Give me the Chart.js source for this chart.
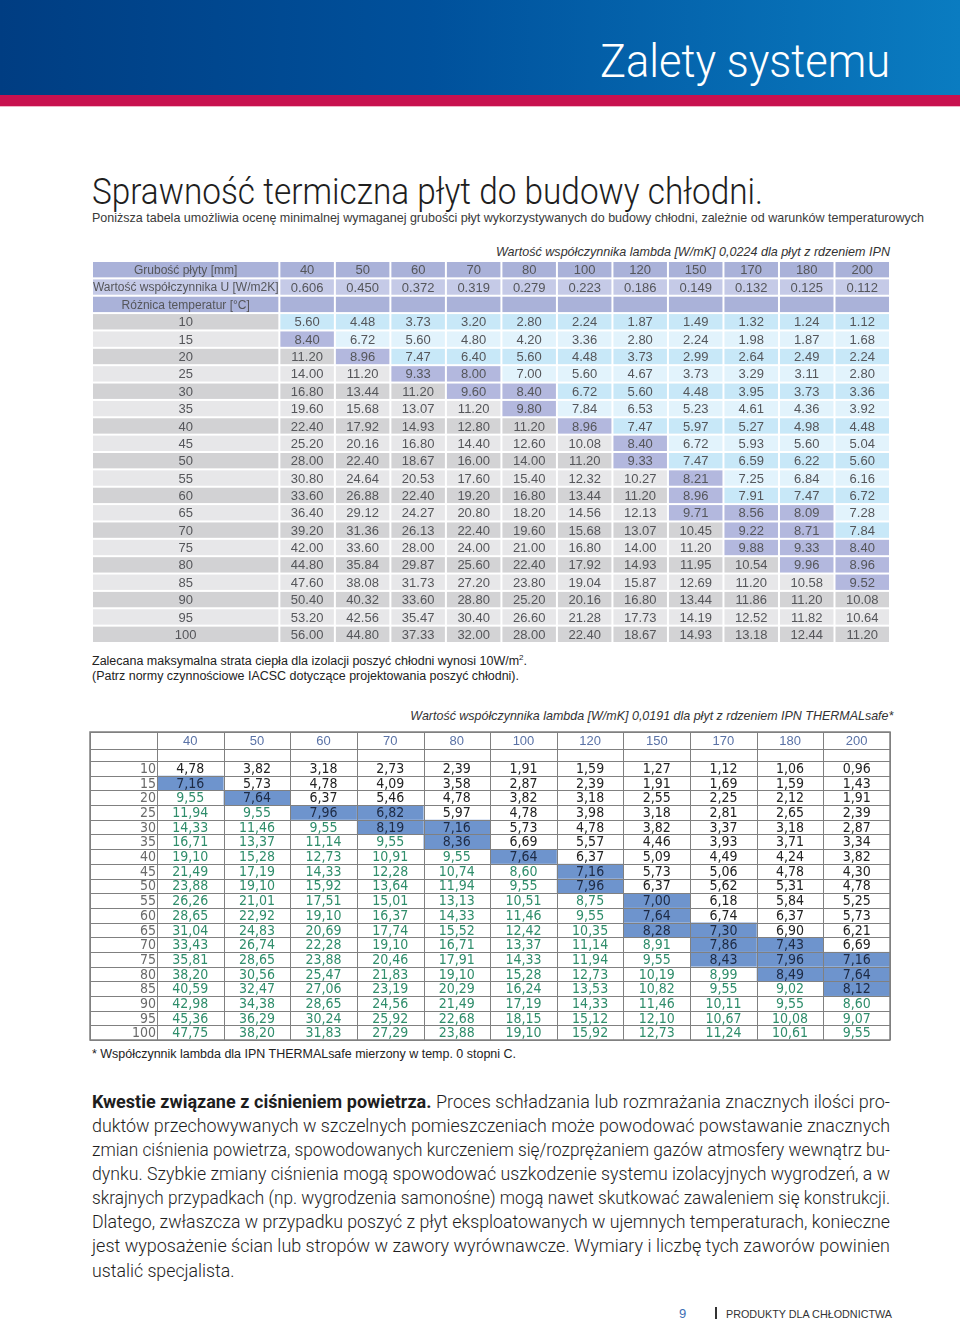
<!DOCTYPE html>
<html lang="pl">
<head>
<meta charset="utf-8">
<title>Zalety systemu</title>
<script src="https://cdn.jsdelivr.net/npm/chart.js@4.4.1/dist/chart.umd.min.js"></script>
<style>
  html, body { margin: 0; padding: 0; }
  body { width: 960px; height: 1326px; position: relative; overflow: hidden; background: #fff;
         font-family: 'Liberation Sans', Arial, sans-serif; color: #222; }
  .band { position: absolute; left: 0; top: 0; width: 960px; height: 95px;
          background: linear-gradient(90deg, #003d82 0%, #00519c 45%, #0a7cc1 100%); }
  .stripe { position: absolute; left: 0; top: 95px; width: 960px; height: 11px; background: #c8114f;
            border-bottom: 1px solid #f2b3c6; }
  .t { position: absolute; white-space: nowrap; line-height: 1; transform-origin: left top; }
  .r { transform-origin: right top; }
  .light { font-family: Roboto, 'Liberation Sans', sans-serif; font-weight: 300; }
  .cap { font-style: italic; font-size: 13px; color: #333; }
  .note { font-size: 12.5px; color: #222; }
  .para { font-family: Roboto, 'Liberation Sans', sans-serif; font-weight: 300; font-size: 18px; color: #1e1e1e; left: 92px; }
  .para b { font-weight: 700; }
  canvas { position: absolute; }
</style>
</head>
<body>
<div class="band"></div>
<div class="stripe"></div>
<span class="t r light fit" data-w="290" style="right:70px; top:37px; font-size:47px; color:#fff;">Zalety systemu</span>

<span class="t light fit" data-w="671" style="left:92px; top:173px; font-size:37px; color:#1e1e1e;">Sprawność termiczna płyt do budowy chłodni.</span>
<span class="t fit" data-w="832" style="left:92px; top:211px; font-size:13px; color:#3a3a3a;">Poniższa tabela umożliwia ocenę minimalnej wymaganej grubości płyt wykorzystywanych do budowy chłodni, zależnie od warunków temperaturowych</span>

<span class="t r cap fit" data-w="394" style="right:70px; top:245px;">Wartość współczynnika lambda [W/mK] 0,0224 dla płyt z rdzeniem IPN</span>
<canvas id="table1" width="806" height="390" style="left:88px; top:257px;"></canvas>

<span class="t note fit" data-w="435" style="left:92px; top:655px;">Zalecana maksymalna strata ciepła dla izolacji poszyć chłodni wynosi 10W/m<sup style="font-size:8px; line-height:0;">2</sup>.</span>
<span class="t note fit" data-w="427" style="left:92px; top:670px;">(Patrz normy czynnościowe IACSC dotyczące projektowania poszyć chłodni).</span>

<span class="t r cap fit" data-w="483" style="right:67px; top:709px;">Wartość współczynnika lambda [W/mK] 0,0191 dla płyt z rdzeniem IPN THERMALsafe*</span>
<canvas id="table2" width="806" height="316" style="left:88px; top:728px;"></canvas>

<span class="t note fit" data-w="424" style="left:92px; top:1048px;">* Współczynnik lambda dla IPN THERMALsafe mierzony w temp. 0 stopni C.</span>

<span class="t para line" style="top:1093px;"><b>Kwestie związane z ciśnieniem powietrza.</b> Proces schładzania lub rozmrażania znacznych ilości pro-</span>
<span class="t para line" style="top:1117px;">duktów przechowywanych w szczelnych pomieszczeniach może powodować powstawanie znacznych</span>
<span class="t para line" style="top:1141px;">zmian ciśnienia powietrza, spowodowanych kurczeniem się/rozprężaniem gazów atmosfery wewnątrz bu-</span>
<span class="t para line" style="top:1165px;">dynku. Szybkie zmiany ciśnienia mogą spowodować uszkodzenie systemu izolacyjnych wygrodzeń, a w</span>
<span class="t para line" style="top:1189px;">skrajnych przypadkach (np. wygrodzenia samonośne) mogą nawet skutkować zawaleniem się konstrukcji.</span>
<span class="t para line" style="top:1213px;">Dlatego, zwłaszcza w przypadku poszyć z płyt eksploatowanych w ujemnych temperaturach, konieczne</span>
<span class="t para line" style="top:1237px;">jest wyposażenie ścian lub stropów w zawory wyrównawcze. Wymiary i liczbę tych zaworów powinien</span>
<span class="t para last" style="top:1262px;">ustalić specjalista.</span>

<span class="t" style="left:679px; top:1307px; font-size:13px; color:#3d6eb4;">9</span>
<div style="position:absolute; left:715px; top:1307px; width:2px; height:12px; background:#333;"></div>
<span class="t fit" data-w="166" style="left:726px; top:1309px; font-size:11px; color:#333;">PRODUKTY DLA CHŁODNICTWA</span>

<script>
// column headings and row headings
const thickness = [40, 50, 60, 70, 80, 100, 120, 150, 170, 180, 200];
const uValues = ['0.606', '0.450', '0.372', '0.319', '0.279', '0.223', '0.186', '0.149', '0.132', '0.125', '0.112'];
const tempDiffs = [10, 15, 20, 25, 30, 35, 40, 45, 50, 55, 60, 65, 70, 75, 80, 85, 90, 95, 100];
const headerLabels = ['Grubość płyty [mm]', 'Wartość współczynnika U [W/m2K]', 'Różnica temperatur [°C]'];

// heat loss [W/m2], lambda 0,0224 (IPN)
const loss224 = [
    [5.60, 4.48, 3.73, 3.20, 2.80, 2.24, 1.87, 1.49, 1.32, 1.24, 1.12],
    [8.40, 6.72, 5.60, 4.80, 4.20, 3.36, 2.80, 2.24, 1.98, 1.87, 1.68],
    [11.20, 8.96, 7.47, 6.40, 5.60, 4.48, 3.73, 2.99, 2.64, 2.49, 2.24],
    [14.00, 11.20, 9.33, 8.00, 7.00, 5.60, 4.67, 3.73, 3.29, 3.11, 2.80],
    [16.80, 13.44, 11.20, 9.60, 8.40, 6.72, 5.60, 4.48, 3.95, 3.73, 3.36],
    [19.60, 15.68, 13.07, 11.20, 9.80, 7.84, 6.53, 5.23, 4.61, 4.36, 3.92],
    [22.40, 17.92, 14.93, 12.80, 11.20, 8.96, 7.47, 5.97, 5.27, 4.98, 4.48],
    [25.20, 20.16, 16.80, 14.40, 12.60, 10.08, 8.40, 6.72, 5.93, 5.60, 5.04],
    [28.00, 22.40, 18.67, 16.00, 14.00, 11.20, 9.33, 7.47, 6.59, 6.22, 5.60],
    [30.80, 24.64, 20.53, 17.60, 15.40, 12.32, 10.27, 8.21, 7.25, 6.84, 6.16],
    [33.60, 26.88, 22.40, 19.20, 16.80, 13.44, 11.20, 8.96, 7.91, 7.47, 6.72],
    [36.40, 29.12, 24.27, 20.80, 18.20, 14.56, 12.13, 9.71, 8.56, 8.09, 7.28],
    [39.20, 31.36, 26.13, 22.40, 19.60, 15.68, 13.07, 10.45, 9.22, 8.71, 7.84],
    [42.00, 33.60, 28.00, 24.00, 21.00, 16.80, 14.00, 11.20, 9.88, 9.33, 8.40],
    [44.80, 35.84, 29.87, 25.60, 22.40, 17.92, 14.93, 11.95, 10.54, 9.96, 8.96],
    [47.60, 38.08, 31.73, 27.20, 23.80, 19.04, 15.87, 12.69, 11.20, 10.58, 9.52],
    [50.40, 40.32, 33.60, 28.80, 25.20, 20.16, 16.80, 13.44, 11.86, 11.20, 10.08],
    [53.20, 42.56, 35.47, 30.40, 26.60, 21.28, 17.73, 14.19, 12.52, 11.82, 10.64],
    [56.00, 44.80, 37.33, 32.00, 28.00, 22.40, 18.67, 14.93, 13.18, 12.44, 11.20]
];

// heat loss [W/m2], lambda 0,0191 (IPN THERMALsafe)
const loss191 = [
    [4.78, 3.82, 3.18, 2.73, 2.39, 1.91, 1.59, 1.27, 1.12, 1.06, 0.96],
    [7.16, 5.73, 4.78, 4.09, 3.58, 2.87, 2.39, 1.91, 1.69, 1.59, 1.43],
    [9.55, 7.64, 6.37, 5.46, 4.78, 3.82, 3.18, 2.55, 2.25, 2.12, 1.91],
    [11.94, 9.55, 7.96, 6.82, 5.97, 4.78, 3.98, 3.18, 2.81, 2.65, 2.39],
    [14.33, 11.46, 9.55, 8.19, 7.16, 5.73, 4.78, 3.82, 3.37, 3.18, 2.87],
    [16.71, 13.37, 11.14, 9.55, 8.36, 6.69, 5.57, 4.46, 3.93, 3.71, 3.34],
    [19.10, 15.28, 12.73, 10.91, 9.55, 7.64, 6.37, 5.09, 4.49, 4.24, 3.82],
    [21.49, 17.19, 14.33, 12.28, 10.74, 8.60, 7.16, 5.73, 5.06, 4.78, 4.30],
    [23.88, 19.10, 15.92, 13.64, 11.94, 9.55, 7.96, 6.37, 5.62, 5.31, 4.78],
    [26.26, 21.01, 17.51, 15.01, 13.13, 10.51, 8.75, 7.00, 6.18, 5.84, 5.25],
    [28.65, 22.92, 19.10, 16.37, 14.33, 11.46, 9.55, 7.64, 6.74, 6.37, 5.73],
    [31.04, 24.83, 20.69, 17.74, 15.52, 12.42, 10.35, 8.28, 7.30, 6.90, 6.21],
    [33.43, 26.74, 22.28, 19.10, 16.71, 13.37, 11.14, 8.91, 7.86, 7.43, 6.69],
    [35.81, 28.65, 23.88, 20.46, 17.91, 14.33, 11.94, 9.55, 8.43, 7.96, 7.16],
    [38.20, 30.56, 25.47, 21.83, 19.10, 15.28, 12.73, 10.19, 8.99, 8.49, 7.64],
    [40.59, 32.47, 27.06, 23.19, 20.29, 16.24, 13.53, 10.82, 9.55, 9.02, 8.12],
    [42.98, 34.38, 28.65, 24.56, 21.49, 17.19, 14.33, 11.46, 10.11, 9.55, 8.60],
    [45.36, 36.29, 30.24, 25.92, 22.68, 18.15, 15.12, 12.10, 10.67, 10.08, 9.07],
    [47.75, 38.20, 31.83, 27.29, 23.88, 19.10, 15.92, 12.73, 11.24, 10.61, 9.55]
];

// columns shaded blue in table 2, per row
const marked191 = [[], [0], [1], [2, 3], [3, 4], [4], [5], [6], [6], [7], [7], [7, 8], [8, 9], [8, 9, 10], [9, 10], [10], [], [], []];

const LABEL1 = -3.375;   // width of the label column, in column units
const LABEL2 = -1.005;
const HEAD2 = [-1.98, -0.82, 0];   // table 2: header row, empty row

function cellPoints(values) {
    const pts = [];
    values.forEach((row, i) => row.forEach((v, j) => pts.push({ x: j + 0.5, y: i + 0.5, v: v, row: i, col: j })));
    return pts;
}

function fill1(v, row) {
    const dark = row % 2 === 0;
    if (v >= 10) return dark ? '#d3d3d5' : '#e7e7e9';
    if (v >= 8) return '#b3b8de';
    return dark ? '#c8e8f8' : '#e2f3fc';
}

// Table 1: coloured cells with white gaps
const table1Plugin = {
    id: 'table1',
    beforeDatasetsDraw(chart) {
        const ctx = chart.ctx;
        const xs = chart.scales.x, ys = chart.scales.y;
        const box = (c0, c1, r0, r1, fill) => {
            const l = xs.getPixelForValue(c0) + 1, r = xs.getPixelForValue(c1) - 1;
            const t = ys.getPixelForValue(r0) + 1, b = ys.getPixelForValue(r1) - 1;
            ctx.fillStyle = fill;
            ctx.fillRect(l, t, r - l, b - t);
        };
        const text = (s, cx, cy, font) => {
            ctx.font = font || "13px 'Liberation Sans', Arial, sans-serif";
            ctx.fillStyle = '#55565a';
            ctx.fillText(s, xs.getPixelForValue(cx), ys.getPixelForValue(cy) + 1);
        };
        ctx.save();
        ctx.textAlign = 'center';
        ctx.textBaseline = 'middle';
        headerLabels.forEach((lab, r) => {
            const fill = r === 1 ? '#c5cae7' : '#aab2d9';
            box(LABEL1, 0, r, r + 1, fill);
            thickness.forEach((t, j) => box(j, j + 1, r, r + 1, fill));
            text(lab, LABEL1 / 2, r + 0.5, "12px 'Liberation Sans', Arial, sans-serif");
        });
        thickness.forEach((t, j) => text(String(t), j + 0.5, 0.5));
        uValues.forEach((u, j) => text(u, j + 0.5, 1.5));
        tempDiffs.forEach((d, i) => {
            box(LABEL1, 0, i + 3, i + 4, i % 2 === 0 ? '#d2d2d4' : '#e7e7e9');
            text(String(d), LABEL1 / 2, i + 3.5);
        });
        chart.data.datasets[0].data.forEach(p => {
            box(p.col, p.col + 1, p.row + 3, p.row + 4, fill1(p.v, p.row));
            text(p.v.toFixed(2), p.x, p.y + 3);
        });
        ctx.restore();
    }
};

// Table 2: grid with ruled lines
const table2Plugin = {
    id: 'table2',
    beforeDatasetsDraw(chart) {
        const ctx = chart.ctx;
        const xs = chart.scales.x, ys = chart.scales.y;
        const px = v => xs.getPixelForValue(v), py = v => ys.getPixelForValue(v);
        const pts = chart.data.datasets[0].data;
        const isMarked = p => marked191[p.row].indexOf(p.col) !== -1;
        ctx.save();
        // highlighted cells
        pts.forEach(p => {
            if (isMarked(p)) {
                ctx.fillStyle = '#6e94cd';
                ctx.fillRect(px(p.col), py(p.row), px(p.col + 1) - px(p.col), py(p.row + 1) - py(p.row));
            }
        });
        // grid
        ctx.strokeStyle = '#808080';
        ctx.lineWidth = 1;
        ctx.beginPath();
        const top = py(HEAD2[0]), bottom = py(tempDiffs.length), left = px(LABEL2), right = px(thickness.length);
        [LABEL2].concat(thickness.map((t, j) => j), [thickness.length]).forEach(c => {
            const x = Math.round(px(c)) + 0.5;
            ctx.moveTo(x, top); ctx.lineTo(x, bottom);
        });
        HEAD2.concat(tempDiffs.map((d, i) => i + 1)).forEach(r => {
            const y = Math.round(py(r)) + 0.5;
            ctx.moveTo(left, y); ctx.lineTo(right, y);
        });
        ctx.stroke();
        ctx.lineWidth = 1.5;
        ctx.strokeRect(left, top, right - left, bottom - top);
        // header numbers
        ctx.textBaseline = 'middle';
        ctx.textAlign = 'center';
        ctx.font = "13px 'Liberation Sans', Arial, sans-serif";
        ctx.fillStyle = '#5a72a6';
        thickness.forEach((t, j) => ctx.fillText(String(t), px(j + 0.5), py((HEAD2[0] + HEAD2[1]) / 2) + 1));
        // row labels
        ctx.font = "14px 'Liberation Sans Narrow', 'DejaVu Sans Condensed', sans-serif";
        ctx.textAlign = 'right';
        ctx.fillStyle = '#6a6a6a';
        tempDiffs.forEach((d, i) => ctx.fillText(String(d), px(0) - 1, py(i + 0.5) + 1));
        // values: green above 8.5, dark elsewhere
        ctx.textAlign = 'center';
        pts.forEach(p => {
            ctx.fillStyle = isMarked(p) ? '#1d2a44' : (p.v >= 8.5 ? '#2f8d6b' : '#222');
            ctx.fillText(p.v.toFixed(2).replace('.', ','), px(p.x), py(p.y) + 1);
        });
        ctx.restore();
    }
};

function tableChart(id, values, xMin, yMin, yMax, plugin, pad) {
    return new Chart(document.getElementById(id), {
        type: 'scatter',
        data: {
            datasets: [{ data: cellPoints(values), pointRadius: 0 }]
        },
        options: {
            responsive: false,
            animation: false,
            events: [],
            layout: { padding: pad },
            plugins: { legend: { display: false }, tooltip: { enabled: false } },
            scales: {
                x: { type: 'linear', display: false, min: xMin, max: thickness.length },
                y: { type: 'linear', display: false, min: yMin, max: yMax, reverse: true }
            }
        },
        plugins: [plugin]
    });
}

tableChart('table1', loss224, LABEL1, 0, tempDiffs.length + 3, table1Plugin, { left: 4, right: 4, top: 4, bottom: 4 });
tableChart('table2', loss191, LABEL2, HEAD2[0], tempDiffs.length, table2Plugin, { left: 2, right: 4, top: 4, bottom: 4 });

// squeeze or justify text lines to the widths of the original page
function fitWidth(el, target) {
    const w = el.getBoundingClientRect().width;
    el.style.transform = 'scaleX(' + (target / w) + ')';
}
document.querySelectorAll('.fit').forEach(el => fitWidth(el, +el.dataset.w));
const scales = [];
document.querySelectorAll('.line').forEach(el => {
    const target = 798;
    const w = el.getBoundingClientRect().width;
    if (w < target) {
        const gaps = (el.textContent.match(/ /g) || []).length;
        el.style.wordSpacing = ((target - w) / gaps) + 'px';
        scales.push(1);
    } else {
        el.style.transform = 'scaleX(' + (target / w) + ')';
        scales.push(target / w);
    }
});
scales.sort();
document.querySelectorAll('.last').forEach(el => {
    el.style.transform = 'scaleX(' + scales[Math.floor(scales.length / 2)] + ')';
});
</script>
</body>
</html>
